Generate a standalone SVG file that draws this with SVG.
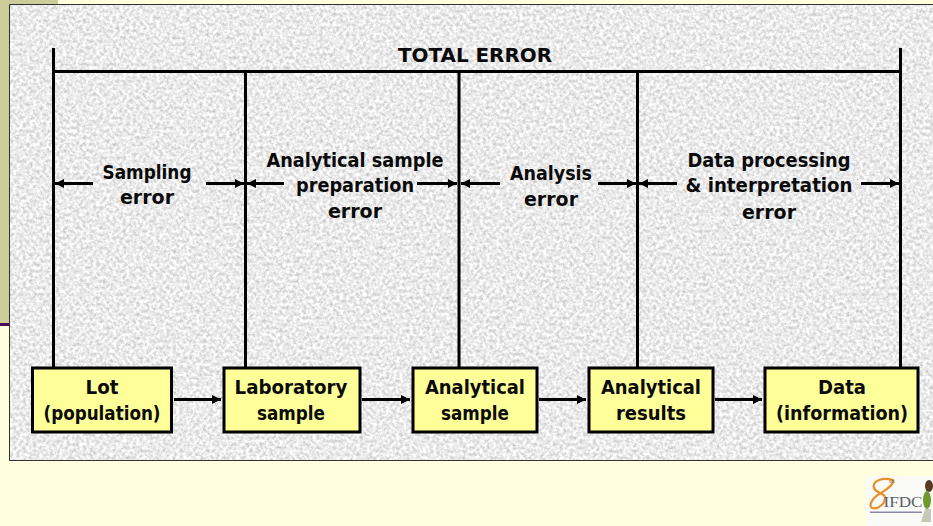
<svg xmlns="http://www.w3.org/2000/svg" width="933" height="526" viewBox="0 0 933 526">
<style>
text{font-family:"DejaVu Sans","Liberation Sans",sans-serif;font-weight:700;font-size:19.5px;fill:#0a0a0a;text-anchor:middle}
.box{fill:#ffff99;stroke:#000;stroke-width:3}
.ln{stroke:#000;stroke-width:3;fill:none}
.dim{stroke:#000;stroke-width:3;fill:none;marker-end:url(#ah)}
.flow{stroke:#000;stroke-width:3;fill:none;marker-end:url(#ah)}
</style>
<defs>
<marker id="ah" markerUnits="userSpaceOnUse" markerWidth="11" markerHeight="11" refX="9" refY="5" orient="auto"><path d="M0 0.500L9 5L0 9.500z" fill="#000"/></marker>
<filter id="tex" x="0" y="0" width="100%" height="100%" color-interpolation-filters="sRGB">
<feTurbulence type="fractalNoise" baseFrequency="0.3" numOctaves="3" seed="7"/>
<feColorMatrix type="matrix" values="0.4 0 0 0 0.72 0.4 0 0 0 0.72 0.4 0 0 0 0.72 0 0 0 0 1"/>
</filter>
</defs>
<rect width="933" height="526" fill="#ffffdd"/>
<rect x="0" y="0" width="58" height="4" fill="#cccc99"/>
<rect x="0" y="0" width="10" height="323" fill="#cccc99"/>
<rect x="0" y="323" width="10" height="3" fill="#4a0a55"/>
<g id="panel">
<rect x="10" y="5" width="923" height="455" fill="#e4e4e4" filter="url(#tex)"/>
<path d="M933 4.500H9.500V460.500H933" fill="none" stroke="#333" stroke-width="1"/>
</g>
<g id="connectors">
<path class="ln" d="M53.500 48V368M245.500 72V368M459 72V368M637.500 72V368M900.500 48V368M53.500 71.500H900.500"/>
<path class="dim" d="M93 183.500H55"/>
<path class="dim" d="M206 183.500H244"/>
<path class="dim" d="M284 183.500H247"/>
<path class="dim" d="M417 183.500H457"/>
<path class="dim" d="M500 183.500H461"/>
<path class="dim" d="M598 183.500H636"/>
<path class="dim" d="M677 183.500H639"/>
<path class="dim" d="M861 183.500H899"/>
<path class="flow" d="M174 399.500H221"/>
<path class="flow" d="M362 399.500H410"/>
<path class="flow" d="M539 399.500H586"/>
<path class="flow" d="M715 399.500H762"/>
</g>
<text x="475" y="62" textLength="154" lengthAdjust="spacingAndGlyphs">TOTAL ERROR</text>
<g id="label-sampling"><text x="147" y="179" textLength="89" lengthAdjust="spacingAndGlyphs">Sampling</text><text x="147" y="204" textLength="54" lengthAdjust="spacingAndGlyphs">error</text></g>
<g id="label-preparation"><text x="355" y="167" textLength="177" lengthAdjust="spacingAndGlyphs">Analytical sample</text><text x="355" y="192" textLength="118" lengthAdjust="spacingAndGlyphs">preparation</text><text x="355" y="218" textLength="54" lengthAdjust="spacingAndGlyphs">error</text></g>
<g id="label-analysis"><text x="551" y="180" textLength="82" lengthAdjust="spacingAndGlyphs">Analysis</text><text x="551" y="206" textLength="54" lengthAdjust="spacingAndGlyphs">error</text></g>
<g id="label-data"><text x="769" y="167" textLength="163" lengthAdjust="spacingAndGlyphs">Data processing</text><text x="769" y="192" textLength="167" lengthAdjust="spacingAndGlyphs">&amp; interpretation</text><text x="769" y="219" textLength="54" lengthAdjust="spacingAndGlyphs">error</text></g>
<g id="node-lot"><rect class="box" x="32.500" y="368" width="139" height="64"/><text x="102" y="394" textLength="33" lengthAdjust="spacingAndGlyphs">Lot</text><text x="102" y="420" textLength="117" lengthAdjust="spacingAndGlyphs">(population)</text></g>
<g id="node-lab"><rect class="box" x="224" y="368" width="136" height="64"/><text x="291" y="394" textLength="113" lengthAdjust="spacingAndGlyphs">Laboratory</text><text x="291" y="420" textLength="68" lengthAdjust="spacingAndGlyphs">sample</text></g>
<g id="node-sample"><rect class="box" x="413" y="368" width="124" height="64"/><text x="475" y="394" textLength="100" lengthAdjust="spacingAndGlyphs">Analytical</text><text x="475" y="420" textLength="68" lengthAdjust="spacingAndGlyphs">sample</text></g>
<g id="node-results"><rect class="box" x="589" y="368" width="124" height="64"/><text x="651" y="394" textLength="100" lengthAdjust="spacingAndGlyphs">Analytical</text><text x="651" y="420" textLength="70" lengthAdjust="spacingAndGlyphs">results</text></g>
<g id="node-data"><rect class="box" x="765" y="368" width="153" height="64"/><text x="842" y="394" textLength="48" lengthAdjust="spacingAndGlyphs">Data</text><text x="842" y="420" textLength="132" lengthAdjust="spacingAndGlyphs">(information)</text></g>
<g id="logo">
<rect x="866" y="476" width="67" height="50" fill="#fafaf6"/>
<path d="M893 480C882 477 872 481 874 488C876 493 884 493 885 497C886 503 878 510 872 508C868 505 873 497 881 493C887 489 894 485 893 480z" fill="none" stroke="#e8912a" stroke-width="2.200"/>
<text x="892" y="483" style="font-family:'Liberation Serif',serif;font-weight:400;font-size:7px;fill:#8a6a30">th</text>
<text x="903" y="507" style="font-family:'Liberation Serif',serif;font-weight:400;font-size:15px;fill:#55606a" textLength="39" lengthAdjust="spacingAndGlyphs">IFDC</text>
<ellipse cx="929" cy="486" rx="4" ry="6" fill="#5a3a20"/>
<ellipse cx="927" cy="500" rx="4" ry="9" fill="#6f9a2a"/>
<path d="M925 509L921 522H931V509z" fill="#c8c8b8"/>
<rect x="870" y="511.500" width="52" height="1.500" fill="#8a8aa8"/>
</g>
</svg>
